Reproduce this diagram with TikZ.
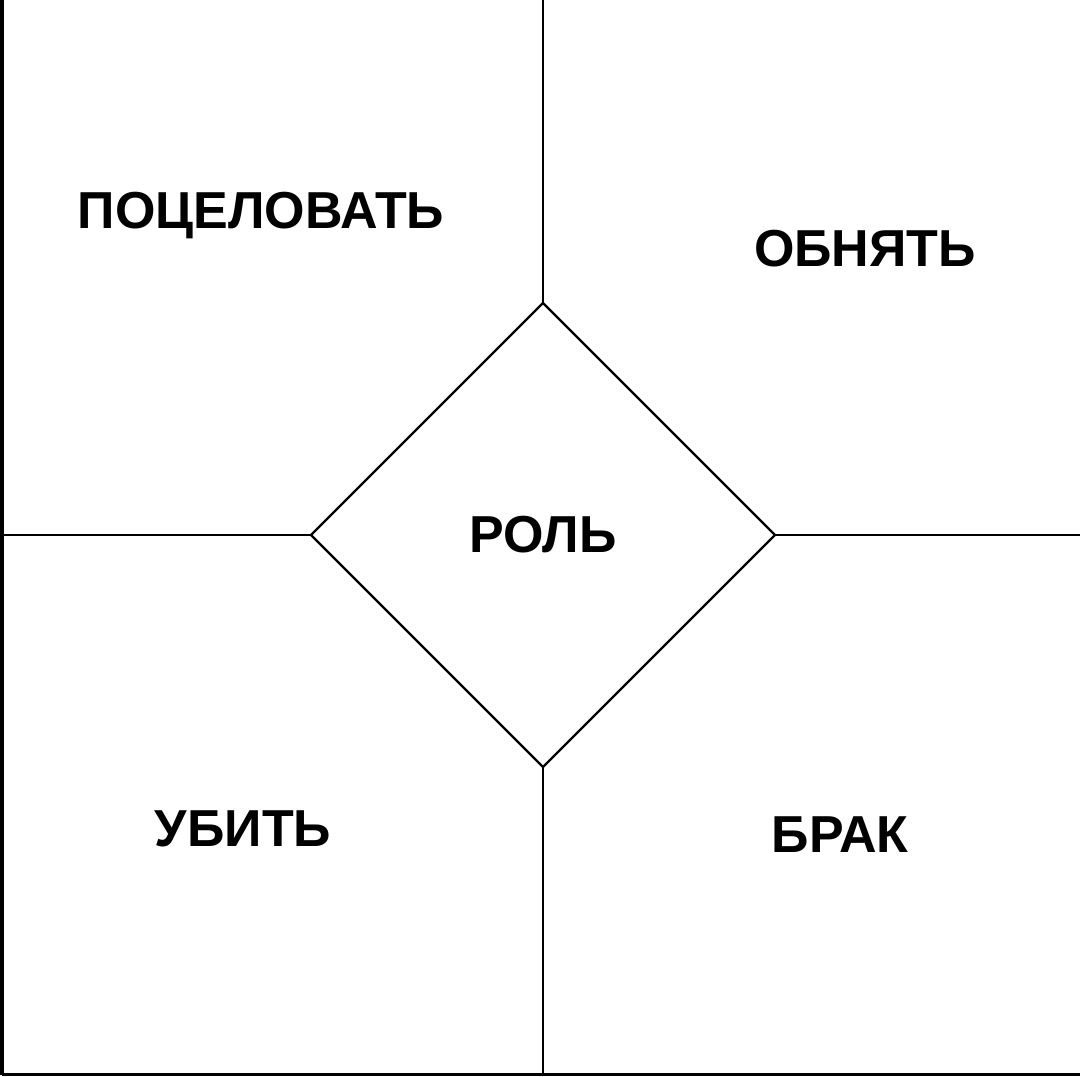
\documentclass[tikz,border=0pt]{standalone}
\usepackage{fontspec}
\setmainfont{Liberation Sans}
\usetikzlibrary{shapes.geometric}
\begin{document}
\begin{tikzpicture}[x=0.5pt, y=0.5pt]
    \useasboundingbox (0,0) rectangle (1080,1076);

    % Define styles
    \tikzstyle{word}=[font=\fontsize{26}{28}\selectfont\bfseries, inner sep=0pt, align=center]
    \tikzstyle{rhomb}=[diamond, draw=black, line width=1.2pt, minimum width=232pt, minimum height=232pt, aspect=1, inner sep=0pt, outer sep=0pt]
    \tikzstyle{rule}=[draw=black, line width=1.2pt]

    \node[rhomb, word] (role) at (543,541) {РОЛЬ};

    \coordinate (top) at (543,1076);
    \coordinate (bot) at (543,0);
    \coordinate (lft) at (0,541);
    \coordinate (rgt) at (1080,541);
    \coordinate (bl) at (2,1.5);
    \coordinate (tl) at (2,1076);
    \coordinate (br) at (1080,1.5);

    \draw[rule] (role.north) -- (top);
    \draw[rule] (role.south) -- (bot);
    \draw[rule] (role.west) -- (lft);
    \draw[rule] (role.east) -- (rgt);

    % frame on the left and bottom
    \draw[line width=2pt] (tl) -- (bl);
    \draw[line width=1.5pt] (bl) -- (br);

    \node[word] (kiss) at (261,860) {ПОЦЕЛОВАТЬ};
    \node[word] (hug) at (865,827) {ОБНЯТЬ};
    \node[word] (kill) at (243,247) {УБИТЬ};
    \node[word] (marry) at (840,241) {БРАК};
\end{tikzpicture}
\end{document}
